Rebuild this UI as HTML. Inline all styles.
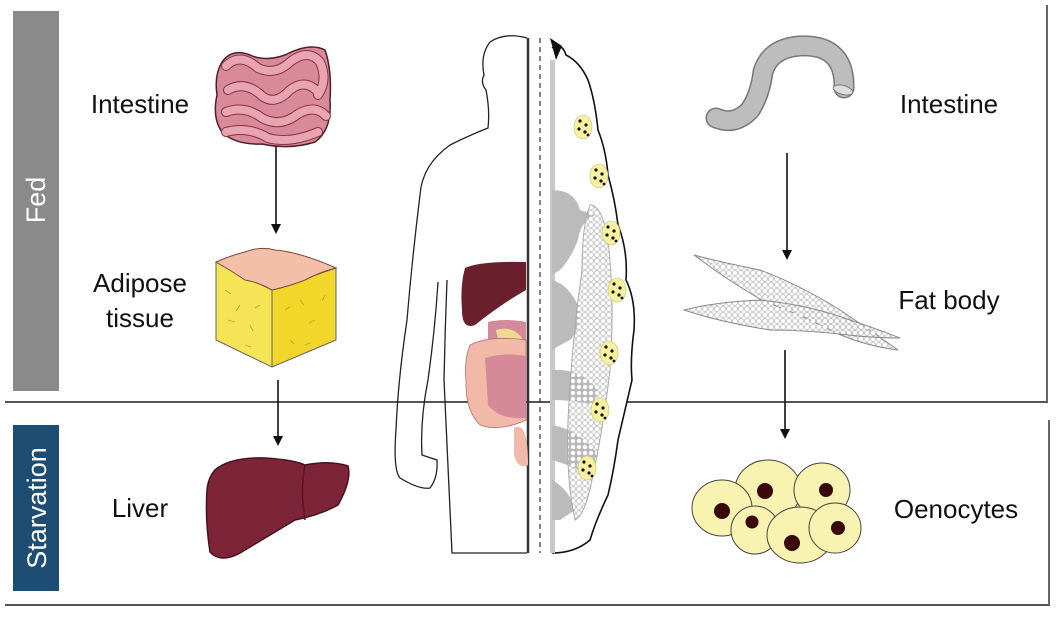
<!DOCTYPE html>
<html><head><style>
body{margin:0;background:#fff;}
svg{display:block;}
text{font-family:"Liberation Sans",Arial,sans-serif;}
</style></head><body>
<svg width="1058" height="617" viewBox="0 0 1058 617" xmlns="http://www.w3.org/2000/svg">
<defs>
<pattern id="cells" width="6" height="6" patternUnits="userSpaceOnUse"><circle cx="3" cy="3" r="2.6" fill="#fff" stroke="#aaa" stroke-width="0.6"/></pattern>
<g id="dots"><circle cx="-3" cy="-6" r="1.6"/><circle cx="3" cy="-2" r="1.6"/><circle cx="-4" cy="2" r="1.6"/><circle cx="2" cy="5" r="1.6"/><circle cx="5" cy="8" r="1.4"/></g>
</defs>
<!-- frames -->
<line x1="5" y1="402" x2="1048" y2="402" stroke="#555" stroke-width="2"/>
<line x1="1047" y1="5" x2="1047" y2="402" stroke="#666" stroke-width="2"/>
<line x1="5" y1="605" x2="1050" y2="605" stroke="#555" stroke-width="2"/>
<line x1="1049" y1="420" x2="1049" y2="605" stroke="#666" stroke-width="2"/>
<rect x="13" y="11" width="46" height="380" fill="#8a8a8a"/>
<text transform="translate(45 200) rotate(-90)" text-anchor="middle" font-size="27" fill="#fff">Fed</text>
<rect x="13" y="425" width="46" height="166" fill="#1d4d72"/>
<text transform="translate(46 508) rotate(-90)" text-anchor="middle" font-size="27" fill="#fff">Starvation</text>
<!-- labels -->
<g font-size="26" fill="#111" text-anchor="middle">
<text x="140" y="113">Intestine</text>
<text x="140" y="292">Adipose</text>
<text x="140" y="327">tissue</text>
<text x="140" y="517">Liver</text>
<text x="949" y="113">Intestine</text>
<text x="949" y="309">Fat body</text>
<text x="956" y="518">Oenocytes</text>
</g>
<!-- arrows -->
<g stroke="#111" stroke-width="1.6">
<line x1="276" y1="144" x2="276" y2="226"/>
<line x1="278" y1="380" x2="278" y2="438"/>
<line x1="787" y1="153" x2="787" y2="252"/>
<line x1="785" y1="350" x2="785" y2="430"/>
</g>
<g fill="#111">
<path d="M271,224 L281,224 L276,234Z"/>
<path d="M273,436 L283,436 L278,446Z"/>
<path d="M782,250 L792,250 L787,260Z"/>
<path d="M780,429 L790,429 L785,439Z"/>
</g>
<!-- intestine pink -->
<path d="M222,62 Q232,48 250,55 Q265,62 285,55 Q310,42 325,50 Q332,70 330,100 Q332,130 315,142 Q290,150 262,144 Q235,145 222,132 Q212,118 217,95 Q214,75 222,62Z" fill="#d98a9a" stroke="#4a2028" stroke-width="1.5"/>
<g fill="none" stroke-linecap="round">
<g stroke="#8a3040" stroke-width="10">
<path d="M226,66 Q240,52 258,68 Q275,76 290,62 Q308,48 320,62 Q328,80 318,95"/>
<path d="M228,90 Q245,80 262,96 Q275,106 290,90 Q305,78 318,92"/>
<path d="M226,112 Q245,105 262,118 Q280,128 298,114 Q315,104 326,116"/>
<path d="M226,132 Q248,126 268,138 Q290,144 318,132"/>
</g>
<g stroke="#e8a4b2" stroke-width="8">
<path d="M226,66 Q240,52 258,68 Q275,76 290,62 Q308,48 320,62 Q328,80 318,95"/>
<path d="M228,90 Q245,80 262,96 Q275,106 290,90 Q305,78 318,92"/>
<path d="M226,112 Q245,105 262,118 Q280,128 298,114 Q315,104 326,116"/>
<path d="M226,132 Q248,126 268,138 Q290,144 318,132"/>
</g>
</g>
<!-- adipose cube -->
<path d="M216,262 L272,290 L272,367 L216,340Z" fill="#f5e455" stroke="#666"/>
<path d="M272,290 L336,268 L336,340 L272,367Z" fill="#f3d62a" stroke="#666"/>
<path d="M216,262 Q232,255 245,252 Q260,246 275,250 Q300,252 336,268 Q320,272 305,280 Q290,286 272,290 Q258,282 245,280 Q230,270 216,262Z" fill="#f4bfa8" stroke="#7a4a3a"/>
<g stroke="#c9a020" stroke-width="0.9" fill="none">
<path d="M225,290 l6,4 M240,305 l-4,6 M228,320 l7,2 M250,325 l3,6 M260,305 l-5,3 M245,345 l6,2 M285,310 l5,-3 M300,300 l4,5 M315,320 l-6,3 M290,340 l4,4 M325,295 l-3,6 M305,345 l5,-2"/>
</g>
<!-- liver -->
<path d="M215,470 Q230,457 265,458 Q295,460 305,465 Q330,460 348,466 Q352,480 338,505 Q320,515 295,520 Q270,535 245,550 Q222,565 210,552 Q205,520 207,490 Q208,478 215,470Z" fill="#7e2438" stroke="#4a1020" stroke-width="1.5"/>
<path d="M305,465 Q300,490 305,520" fill="none" stroke="#5a1525" stroke-width="1.5"/>
<!-- human silhouette -->
<path d="M527,38 Q505,32 490,42 Q480,55 484,75 Q480,82 486,90 Q490,110 488,128 Q470,135 450,145 Q422,165 420,195 Q412,260 407,320 Q398,380 396,430 Q393,470 400,478 Q420,490 430,488 Q438,478 437,460 L422,455 Q420,420 428,380 Q435,330 438,282" fill="none" stroke="#222" stroke-width="1.3"/>
<path d="M447,280 Q445,330 444,380 Q448,470 452,553 L527,553" fill="none" stroke="#222" stroke-width="1.3"/>
<line x1="528" y1="38" x2="528" y2="553" stroke="#333" stroke-width="2.5"/>
<line x1="540" y1="38" x2="540" y2="553" stroke="#333" stroke-width="1.2" stroke-dasharray="5,4"/>
<!-- organs in human -->
<path d="M465,268 Q480,261 526,262 L526,290 Q500,305 475,325 Q462,330 462,310 Q460,285 465,268Z" fill="#6a1f2c"/>
<path d="M488,322 Q505,318 526,322 L526,360 Q500,362 488,350Z" fill="#d58a9a"/>
<path d="M496,330 Q512,325 522,338 Q514,350 500,348Z" fill="#f0d890"/>
<path d="M470,345 Q490,335 526,340 L526,420 Q500,432 480,425 Q465,410 466,380 Q464,360 470,345Z" fill="#f2b8a8" stroke="#b07070" stroke-width="0.8"/>
<path d="M485,358 Q505,352 526,356 L526,418 Q500,420 488,405Z" fill="#d58a9a"/>
<path d="M514,428 Q528,420 528,465 Q518,470 514,455Z" fill="#f2b8a8"/>
<!-- fly half -->
<path d="M552,48 Q562,42 566,55 Q580,62 588,80 Q595,100 598,130 Q606,150 608,175 Q615,200 618,225 Q628,250 626,280 Q636,300 634,330 Q630,360 632,380 Q625,410 618,440 Q614,470 608,495 Q596,520 590,540 Q575,553 552,553" fill="#fff" stroke="#111" stroke-width="1.6"/>
<path d="M550,38 L562,46 L556,60Z" fill="#111"/>
<rect x="550" y="60" width="5" height="493" fill="#c8c8c8"/>
<g fill="#bbb">
<path d="M552,190 Q575,190 580,210 L595,215 Q580,222 578,240 Q570,260 560,270 L552,275Z"/>
<path d="M552,280 Q570,285 580,310 Q580,330 570,340 Q560,345 552,350Z"/>
<path d="M552,370 Q580,368 598,390 L595,405 Q575,400 552,400Z"/>
<path d="M552,425 Q580,430 598,455 L590,475 Q570,465 552,460Z"/>
<path d="M552,480 Q570,490 575,510 L560,520 L552,520Z"/>
</g>
<path d="M590,205 Q602,205 608,240 Q615,300 610,370 Q603,430 592,480 Q585,515 575,520 Q566,480 568,420 Q572,340 582,270 Q582,225 590,205Z" fill="url(#cells)" stroke="#aaa"/>
<g fill="#f6f0a0" stroke="#c9c070" stroke-width="0.6">
<ellipse cx="583" cy="127" rx="9" ry="12"/><ellipse cx="599" cy="176" rx="9" ry="12"/><ellipse cx="611" cy="233" rx="9" ry="12"/><ellipse cx="617" cy="290" rx="9" ry="12"/><ellipse cx="609" cy="353" rx="9" ry="12"/><ellipse cx="600" cy="410" rx="9" ry="12"/><ellipse cx="587" cy="468" rx="9" ry="12"/>
</g>
<g fill="#111">
<use href="#dots" x="583" y="127"/><use href="#dots" x="599" y="176"/><use href="#dots" x="611" y="233"/><use href="#dots" x="617" y="290"/><use href="#dots" x="609" y="353"/><use href="#dots" x="600" y="410"/><use href="#dots" x="587" y="468"/>
</g>
<!-- gray intestine tube -->
<g fill="none" stroke-linecap="round">
<path d="M716,118 Q735,126 750,110 Q760,95 763,72 Q770,48 800,46 Q845,44 844,88" stroke="#777" stroke-width="21"/>
<path d="M716,118 Q735,126 750,110 Q760,95 763,72 Q770,48 800,46 Q845,44 844,88" stroke="#bdbdbd" stroke-width="18"/>
</g>
<ellipse cx="843" cy="90" rx="10" ry="4.5" fill="#ddd" stroke="#777" transform="rotate(15 843 90)"/>
<!-- fat body -->
<path d="M694,255 Q720,262 760,270 Q800,285 840,310 Q870,330 898,350 Q860,345 830,330 Q795,312 765,302 Q730,282 694,255Z" fill="url(#cells)" stroke="#888"/>
<path d="M684,310 Q715,302 760,300 Q810,305 850,320 Q880,330 900,338 Q870,338 840,334 Q800,330 770,330 Q720,322 684,310Z" fill="url(#cells)" stroke="#888"/>
<!-- oenocytes -->
<g fill="#f8f3b0" stroke="#444" stroke-width="1">
<ellipse cx="768" cy="490" rx="33" ry="30"/>
<ellipse cx="822" cy="490" rx="28" ry="27"/>
<ellipse cx="722" cy="508" rx="30" ry="28"/>
<ellipse cx="755" cy="530" rx="24" ry="24"/>
<ellipse cx="800" cy="535" rx="33" ry="28"/>
<ellipse cx="835" cy="528" rx="26" ry="25"/>
</g>
<g fill="#3a0808">
<circle cx="765" cy="491" r="8"/><circle cx="826" cy="490" r="7"/><circle cx="722" cy="511" r="8"/><circle cx="752" cy="522" r="6.5"/><circle cx="792" cy="543" r="8"/><circle cx="838" cy="528" r="7"/>
</g>
</svg>
</body></html>
